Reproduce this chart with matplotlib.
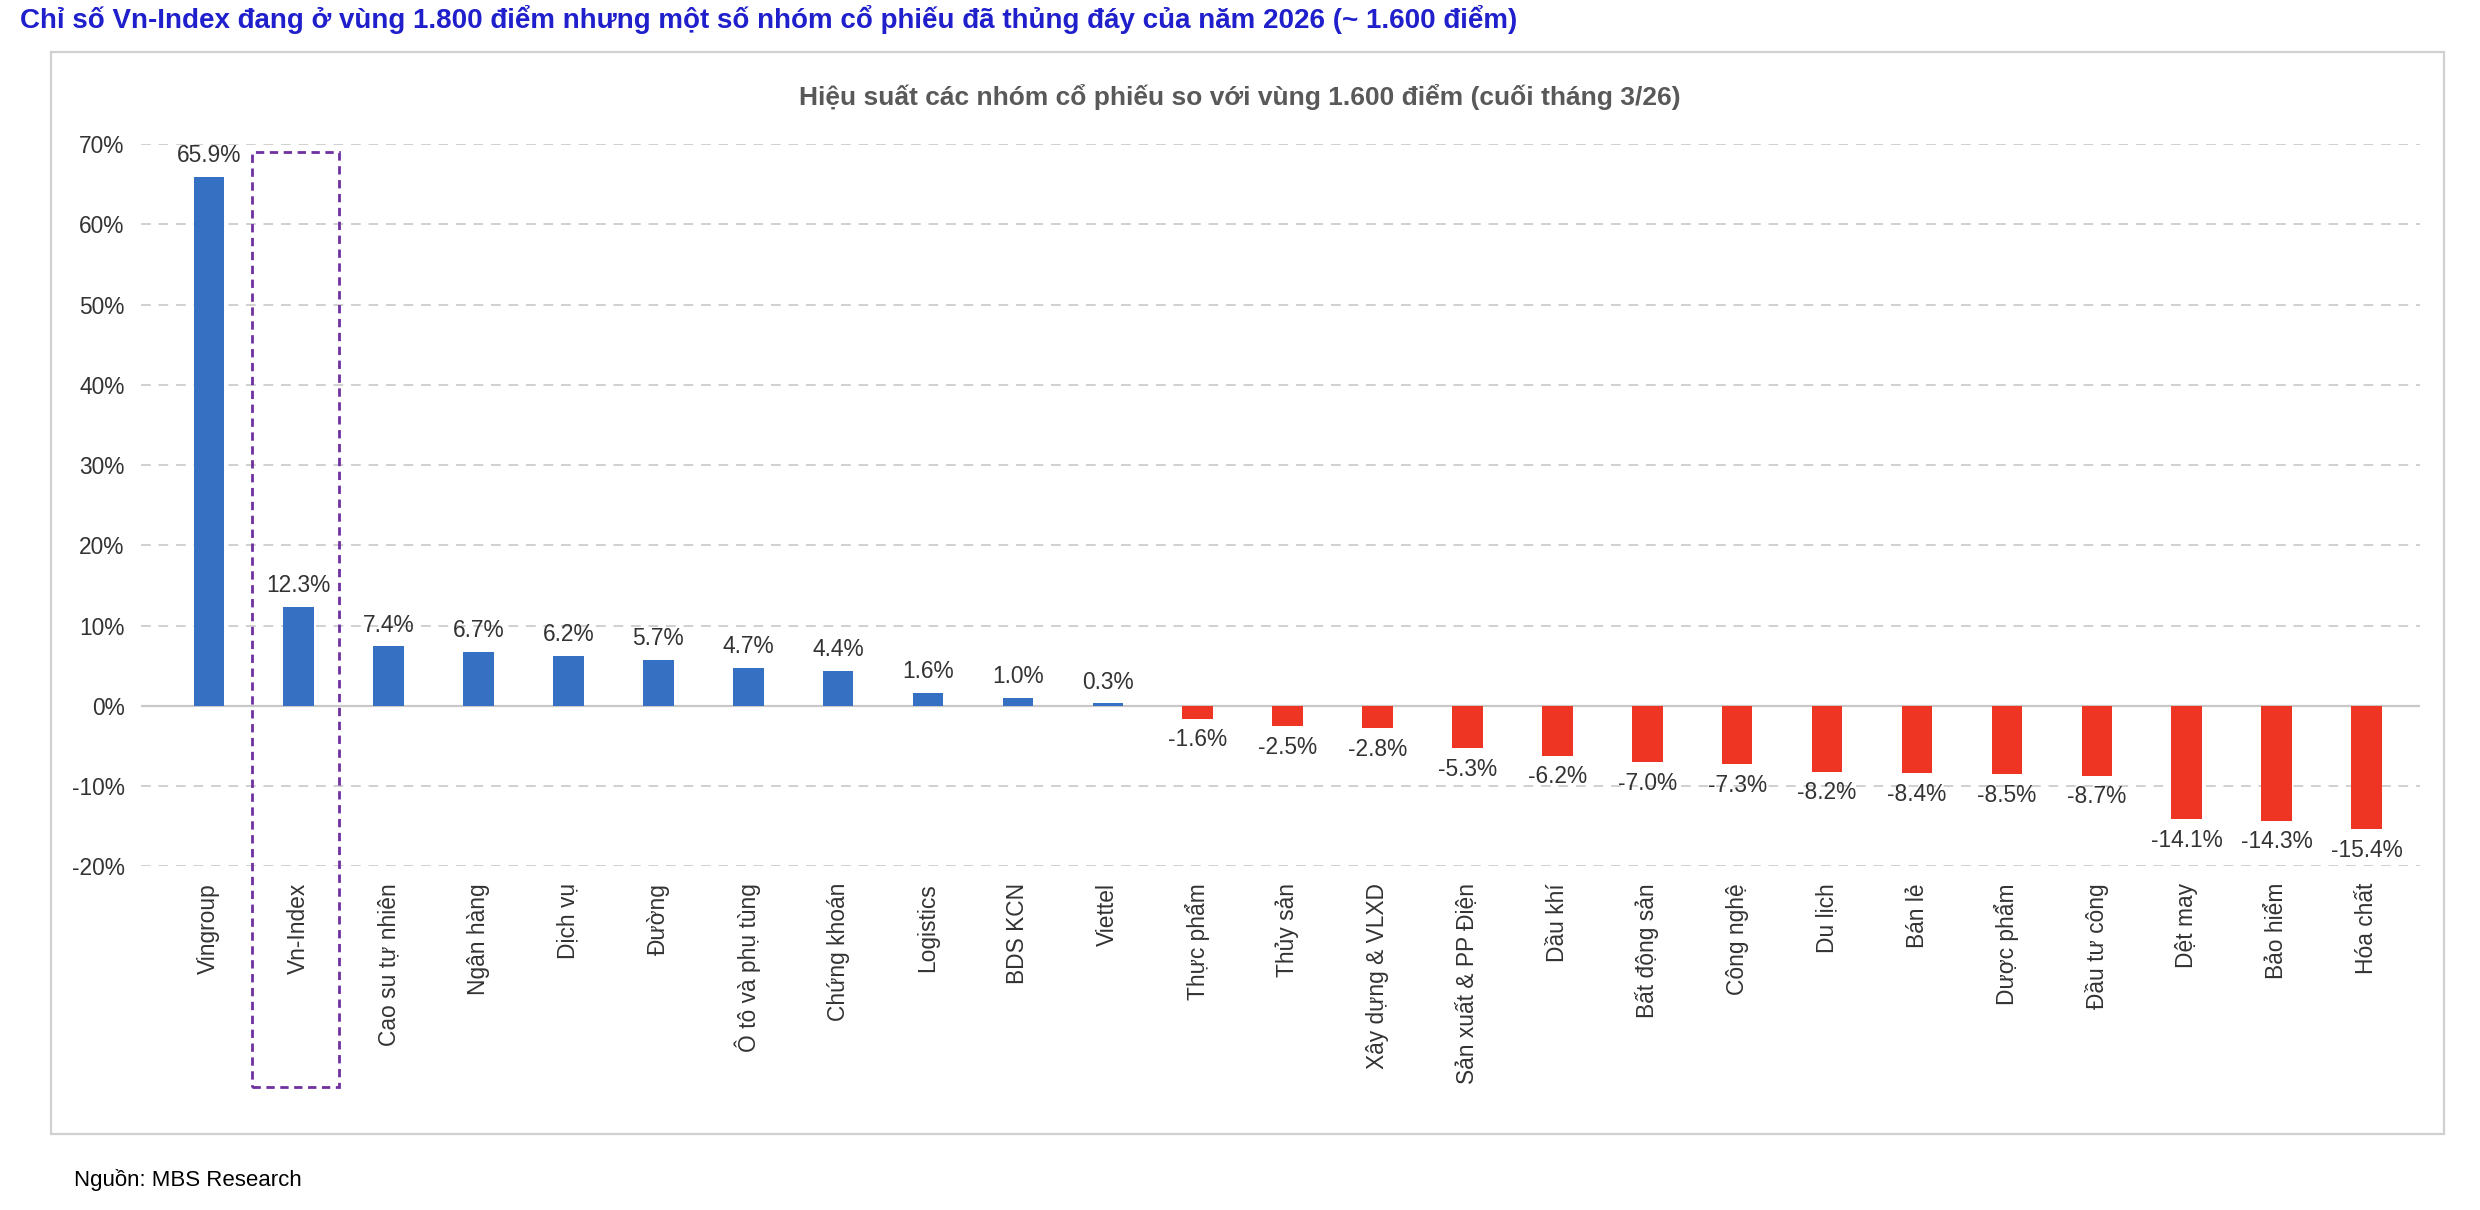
import matplotlib
matplotlib.use("Agg")
import matplotlib.pyplot as plt
from matplotlib.patches import Rectangle
import matplotlib.transforms as mtransforms

plt.rcParams['font.family'] = ['Liberation Sans', 'DejaVu Sans']

categories = ["Vingroup", "Vn-Index", "Cao su tự nhiên", "Ngân hàng", "Dịch vụ", "Đường",
              "Ô tô và phụ tùng", "Chứng khoán", "Logistics", "BDS KCN", "Viettel",
              "Thực phẩm", "Thủy sản", "Xây dựng & VLXD", "Sản xuất & PP Điện", "Dầu khí",
              "Bất động sản", "Công nghệ", "Du lịch", "Bán lẻ", "Dược phẩm", "Đầu tư công",
              "Dệt may", "Bảo hiểm", "Hóa chất"]
values = [65.9, 12.3, 7.4, 6.7, 6.2, 5.7, 4.7, 4.4, 1.6, 1.0, 0.3,
          -1.6, -2.5, -2.8, -5.3, -6.2, -7.0, -7.3, -8.2, -8.4, -8.5, -8.7,
          -14.1, -14.3, -15.4]
yticks = [-20, -10, 0, 10, 20, 30, 40, 50, 60, 70]

blue = "#3670C2"
red = "#EE3524"

fig = plt.figure(figsize=(12.4, 6.05), dpi=200)
ax = fig.add_axes([0.057, 0.284, 0.919, 0.597])

x = list(range(len(values)))
colors = [blue if v >= 0 else red for v in values]
ax.bar(x, values, width=0.34, color=colors, zorder=3)
for xi, v in zip(x, values):
    if v >= 0:
        ax.text(xi, v + 1.2, f"{v:.1f}%", ha="center", va="bottom", fontsize=8.2, color="#333333")
    else:
        ax.text(xi, v - 1.2, f"{v:.1f}%", ha="center", va="top", fontsize=8.2, color="#333333")

ax.set_ylim(-20, 70)
ax.set_xlim(-0.75, len(values) - 0.4)
ax.set_yticks(yticks)
ax.set_yticklabels([f"{t}%" for t in yticks], fontsize=8.2, color="#333333")
ax.set_xticks(x)
ax.set_xticklabels(categories, rotation=90, fontsize=8.2, color="#333333")
ax.tick_params(length=0, pad=6)
ax.yaxis.grid(True, linestyle=(0, (5, 4)), color="#D0D0D0", linewidth=0.7, zorder=0)
for s in ax.spines.values():
    s.set_visible(False)
ax.axhline(0, color="#C8C8C8", linewidth=0.8, zorder=2)

trans = mtransforms.blended_transform_factory(ax.transData, fig.transFigure)
box = Rectangle((0.48, 0.102), 0.97, 0.772, transform=trans, fill=False,
                edgecolor="#7030A0", linestyle=(0, (3, 2)), linewidth=1.0, clip_on=False)
fig.add_artist(box)

fig.add_artist(Rectangle((0.0205, 0.063), 0.965, 0.894, transform=fig.transFigure,
                         fill=False, edgecolor="#D0D0D0", linewidth=0.8))

fig.text(0.5, 0.92, "Hiệu suất các nhóm cổ phiếu so với vùng 1.600 điểm (cuối tháng 3/26)",
         ha="center", va="center", fontsize=9.5, fontweight="bold", color="#595959")
fig.text(0.008, 0.984, "Chỉ số Vn-Index đang ở vùng 1.800 điểm nhưng một số nhóm cổ phiếu đã thủng đáy của năm 2026 (~ 1.600 điểm)",
         ha="left", va="center", fontsize=10, fontweight="bold", color="#1F1FCC")
fig.text(0.03, 0.025, "Nguồn: MBS Research", ha="left", va="center", fontsize=8, color="#000000")

fig.savefig("out.png", dpi=200)
